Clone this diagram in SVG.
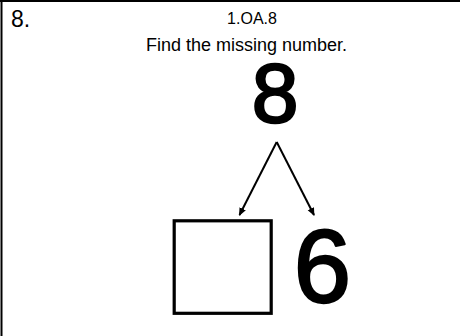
<svg xmlns="http://www.w3.org/2000/svg" width="460" height="336" viewBox="0 0 460 336">
<style>
text{font-family:"Liberation Sans",Arial,sans-serif;fill:#000}
.frame{stroke:#000;stroke-width:2;fill:none}
.conn{stroke:#000;stroke-width:2;fill:none}
.big{text-anchor:middle;stroke:#000;stroke-width:2.4;stroke-linejoin:round}
</style>
<defs>
<marker id="ah" markerWidth="8" markerHeight="8" refX="7" refY="4" orient="auto" markerUnits="userSpaceOnUse">
<path d="M0,0.5 L8,4 L0,7.5 Z" fill="#000"/>
</marker>
</defs>
<rect width="460" height="336" fill="#fff"/>
<g id="frame">
<line class="frame" x1="0" y1="1" x2="460" y2="1"/>
<line class="frame" x1="1.5" y1="0" x2="1.5" y2="336"/>
</g>
<g id="number"><text x="11" y="27" font-size="23">8.</text></g>
<g id="standard"><text x="252" y="24" font-size="16" text-anchor="middle">1.OA.8</text></g>
<g id="prompt"><text x="246.5" y="51" font-size="18" text-anchor="middle">Find the missing number.</text></g>
<g id="whole"><text class="big" x="275" y="121.5" font-size="84">8</text></g>
<g id="connectors">
<line class="conn" x1="276.7" y1="142" x2="239.5" y2="215" marker-end="url(#ah)"/>
<line class="conn" x1="276.7" y1="142" x2="314" y2="215" marker-end="url(#ah)"/>
</g>
<g id="missing"><rect x="174.2" y="220.8" width="97" height="92.5" fill="#fff" stroke="#000" stroke-width="3.2"/></g>
<g id="part"><text class="big" x="322.5" y="301.5" font-size="103">6</text></g>
</svg>
